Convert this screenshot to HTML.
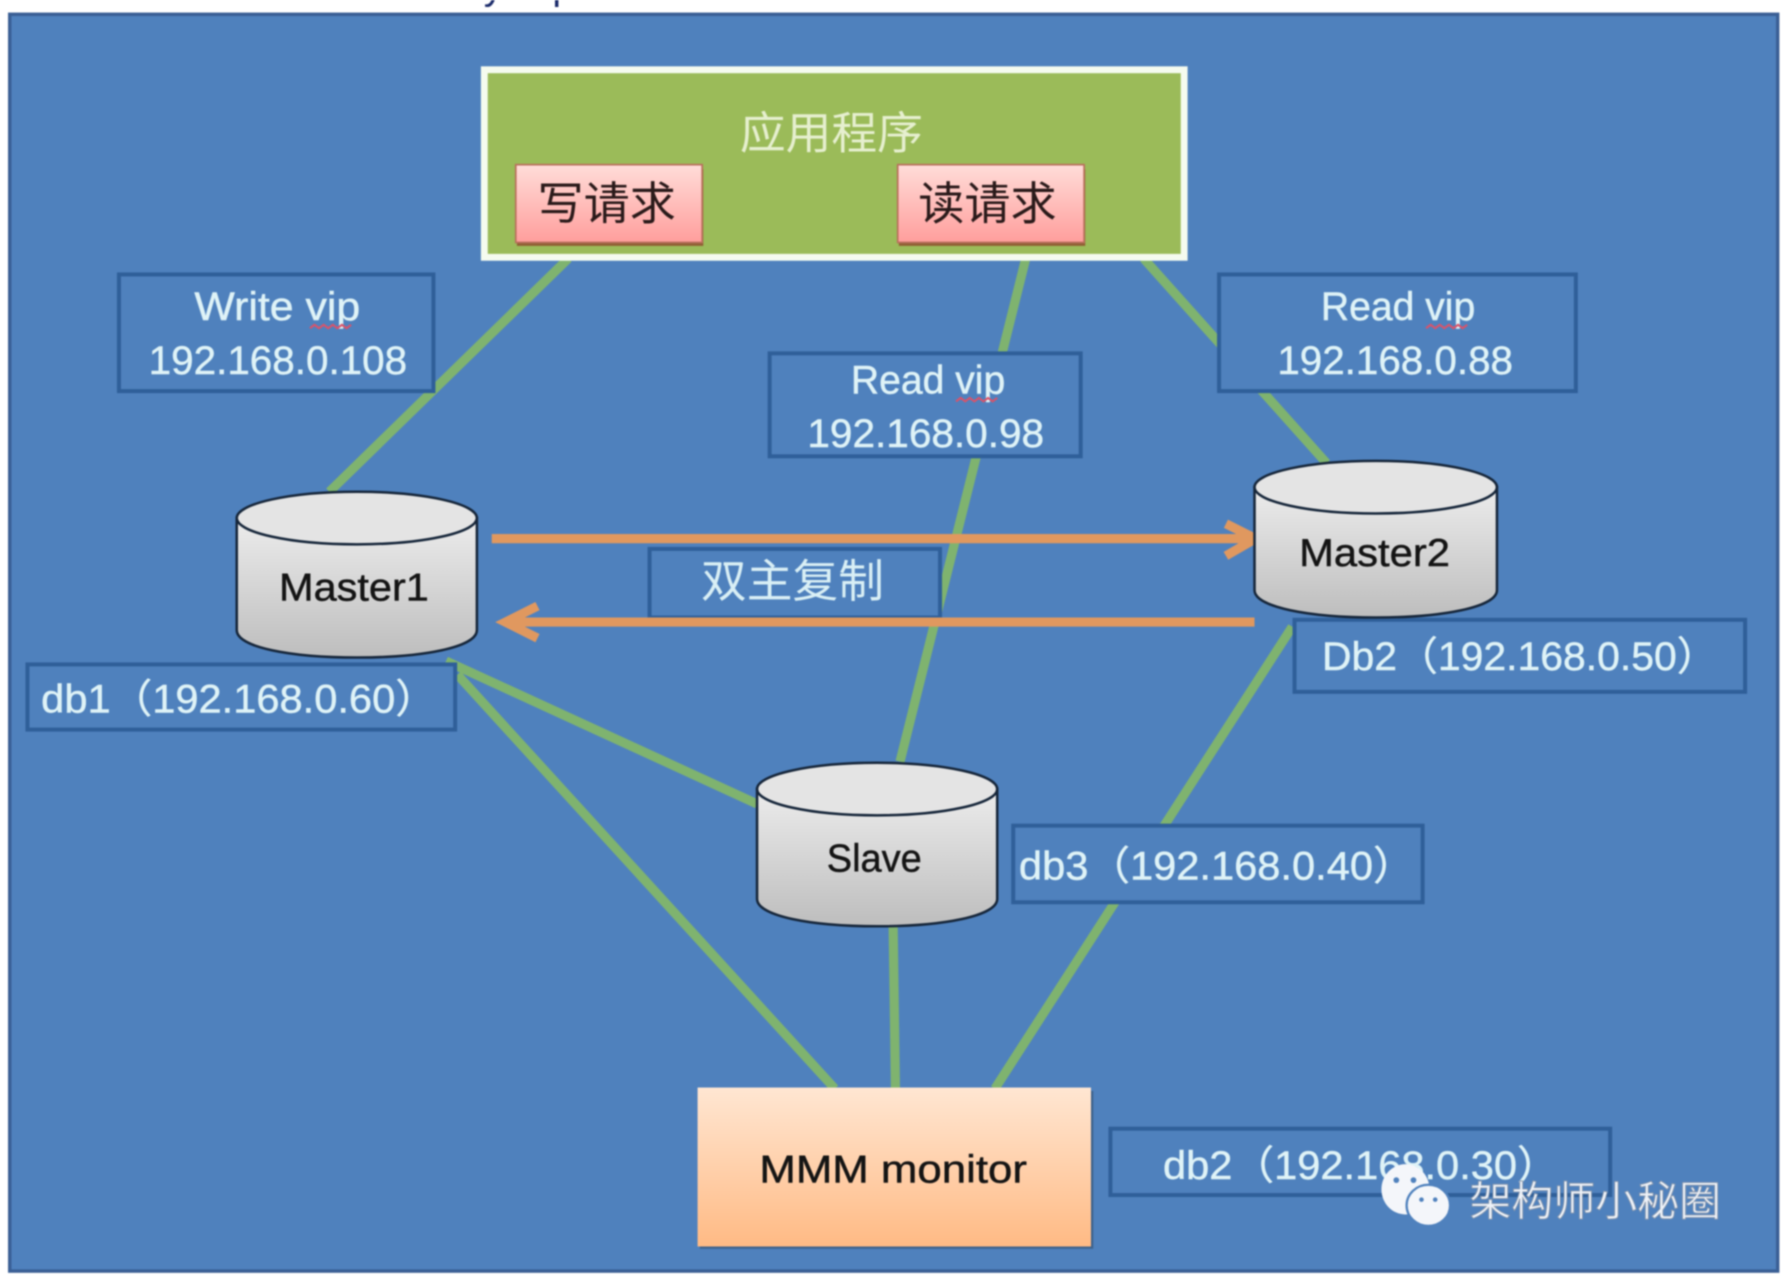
<!DOCTYPE html>
<html><head><meta charset="utf-8"><style>
html,body{margin:0;padding:0;background:#fff;width:1784px;height:1280px;overflow:hidden}
svg{display:block;filter:blur(.9px)}
text{font-family:"Liberation Sans","Noto Sans CJK SC",sans-serif}
.l{fill:#dff3f7;font-size:35px;stroke:#dff3f7;stroke-width:.4}
.d{fill:#141414;font-size:34px;stroke:#141414;stroke-width:.4}
.box{fill:#4f81bd;stroke:#2f5f99;stroke-width:3.5}
.g{stroke:#7fb36f;stroke-width:8;fill:none}
.o{stroke:#e0985f;stroke-width:8;fill:none}
.c{fill:#e4e4e4;stroke:#16263a;stroke-width:2.2}
</style></head><body>
<svg width="1784" height="1280" viewBox="0 0 1560 1119.3" xmlns="http://www.w3.org/2000/svg">
<defs>
<linearGradient id="r" x1="0" y1="0" x2="0" y2="1"><stop offset="0" stop-color="#ffdcd8"/><stop offset="1" stop-color="#ff9e9c"/></linearGradient>
<linearGradient id="m" x1="0" y1="0" x2="0" y2="1"><stop offset="0" stop-color="#ffe6d2"/><stop offset="1" stop-color="#ffba84"/></linearGradient>
<linearGradient id="cy" x1="0" y1="0" x2="0" y2="1"><stop offset="0" stop-color="#ececec"/><stop offset="1" stop-color="#bdbdbd"/></linearGradient>
</defs>
<rect width="1560" height="1120" fill="#fff"/>
<text x="423" y="-1" font-size="34" fill="#1a2a6a">y</text>
<text x="483" y="-1" font-size="34" fill="#1a2a6a">p</text>
<rect x="8.500" y="12.500" width="1546" height="1099" fill="#4f81bd" stroke="#3a5f95" stroke-width="3"/>

<!-- connectors -->
<path class="g" d="M497 226L288 430M897 226L787 666M1000 226L1160 405M390 578L662 703M400 590L730 952M1130 548L870 952M781 810L783 952"/>

<!-- application -->
<rect x="423.500" y="61" width="612" height="164" fill="#9bbb59" stroke="#f5fbef" stroke-width="6"/>
<text x="647" y="130" font-size="39" fill="#e6efcf" textLength="160" lengthAdjust="spacingAndGlyphs">应用程序</text>
<rect x="452" y="148" width="163" height="67" fill="#8f5430" opacity=".9"/>
<rect x="451" y="144" width="163" height="68" fill="url(#r)" stroke="#b9705c" stroke-width="1.500"/>
<rect x="786" y="148" width="163" height="67" fill="#8f5430" opacity=".9"/>
<rect x="785" y="144" width="163" height="68" fill="url(#r)" stroke="#b9705c" stroke-width="1.500"/>
<text x="470" y="192" font-size="40" fill="#2a1a1a" textLength="121" lengthAdjust="spacingAndGlyphs">写请求</text>
<text x="803" y="192" font-size="40" fill="#2a1a1a" textLength="121" lengthAdjust="spacingAndGlyphs">读请求</text>

<!-- label boxes -->
<rect class="box" x="104" y="240" width="275" height="102"/>
<rect class="box" x="673" y="309" width="272" height="90"/>
<rect class="box" x="1066" y="240" width="312" height="102"/>
<rect class="box" x="24" y="581" width="374" height="57"/>
<rect class="box" x="1132" y="542" width="394" height="63"/>
<rect class="box" x="886" y="722" width="358" height="67"/>
<rect class="box" x="971" y="987" width="437" height="58"/>

<text class="l" x="170" y="280" textLength="145" lengthAdjust="spacingAndGlyphs">Write vip</text>
<text class="l" x="130" y="327" textLength="226" lengthAdjust="spacingAndGlyphs">192.168.0.108</text>
<text class="l" x="744" y="344" textLength="135" lengthAdjust="spacingAndGlyphs">Read vip</text>
<text class="l" x="706" y="391" textLength="207" lengthAdjust="spacingAndGlyphs">192.168.0.98</text>
<text class="l" x="1155" y="280" textLength="135" lengthAdjust="spacingAndGlyphs">Read vip</text>
<text class="l" x="1117" y="327" textLength="206" lengthAdjust="spacingAndGlyphs">192.168.0.88</text>
<path d="M271 287l4-3 4 3 4-3 4 3 4-3 4 3 4-3 4 3 4-3 M836 351l4-3 4 3 4-3 4 3 4-3 4 3 4-3 4 3 4-3 M1247 287l4-3 4 3 4-3 4 3 4-3 4 3 4-3 4 3 4-3" fill="none" stroke="#d9536a" stroke-width="1.800"/>
<text class="l" x="36" y="623" textLength="346" lengthAdjust="spacingAndGlyphs">db1（192.168.0.60）</text>
<text class="l" x="1156" y="586" textLength="346" lengthAdjust="spacingAndGlyphs">Db2（192.168.0.50）</text>
<text class="l" x="891" y="769" textLength="346" lengthAdjust="spacingAndGlyphs">db3（192.168.0.40）</text>
<text class="l" x="1017" y="1031" textLength="346" lengthAdjust="spacingAndGlyphs">db2（192.168.0.30）</text>

<!-- replication -->
<rect class="box" x="568" y="480" width="254" height="60"/>
<text x="613" y="522" font-size="40" fill="#d9eff5" textLength="160" lengthAdjust="spacingAndGlyphs">双主复制</text>
<path class="o" d="M430 471H1096M1072 458L1098 471L1072 486"/>
<path class="o" d="M1097 544H442M470 530L442 544L470 558"/>

<!-- cylinders -->
<path class="c" style="fill:url(#cy)" d="M207 453V551C207 566 254 575 312 575S417 566 417 551V453Z"/>
<ellipse class="c" cx="312" cy="453" rx="105" ry="23"/>
<text class="d" x="244" y="525" textLength="131" lengthAdjust="spacingAndGlyphs">Master1</text>
<path class="c" style="fill:url(#cy)" d="M1097 426V516C1097 531 1145 540 1203 540S1309 531 1309 516V426Z"/>
<ellipse class="c" cx="1203" cy="426" rx="106" ry="23"/>
<text class="d" x="1136" y="495" textLength="132" lengthAdjust="spacingAndGlyphs">Master2</text>
<path class="c" style="fill:url(#cy)" d="M662 690V786C662 801 709 810 767 810S872 801 872 786V690Z"/>
<ellipse class="c" cx="767" cy="690" rx="105" ry="23"/>
<text class="d" x="723" y="762" textLength="83" lengthAdjust="spacingAndGlyphs">Slave</text>

<!-- monitor -->
<rect x="612" y="954" width="344" height="138" fill="#3a5a80" opacity=".8"/>
<rect x="610" y="951" width="344" height="139" fill="url(#m)"/>
<text class="d" x="664" y="1034" textLength="234" lengthAdjust="spacingAndGlyphs">MMM  monitor</text>

<!-- watermark -->
<ellipse cx="1229" cy="1040" rx="21" ry="22" fill="#f4f6fa"/>
<ellipse cx="1249" cy="1054" rx="19" ry="18" fill="#f4f6fa" stroke="#4f81bd" stroke-width="2"/>
<circle cx="1221" cy="1032" r="2.500" fill="#4f81bd"/><circle cx="1236" cy="1032" r="2.500" fill="#4f81bd"/>
<circle cx="1243" cy="1049" r="2" fill="#4f81bd"/><circle cx="1255" cy="1049" r="2" fill="#4f81bd"/>
<text x="1285" y="1063" font-size="36" fill="#eef2f8" stroke="#8a97aa" stroke-width=".7" textLength="220" lengthAdjust="spacingAndGlyphs">架构师小秘圈</text>
</svg>
</body></html>
